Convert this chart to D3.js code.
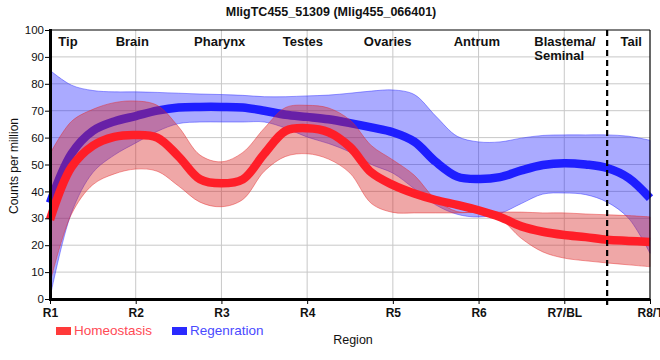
<!DOCTYPE html>
<html>
<head>
<meta charset="utf-8">
<script src="https://cdn.jsdelivr.net/npm/d3@7"></script>
<style>
  html, body { margin: 0; padding: 0; background: #fff; }
  svg { display: block; font-family: "Liberation Sans", Arial, sans-serif; }
</style>
</head>
<body>
<svg id="chart" width="660" height="360"></svg>
<script>
// ---- data ----
const regions = ["R1", "R2", "R3", "R4", "R5", "R6", "R7/BL", "R8/T"];
const tissues = ["Tip", "Brain", "Pharynx", "Testes", "Ovaries", "Antrum", "Blastema/|Seminal", "Tail"];
const tissueAt = [1.21, 1.96, 2.98, 3.95, 4.94, 5.98, 6.65, 7.78];
const yTicks = [0, 10, 20, 30, 40, 50, 60, 70, 80, 90, 100];
const divider = 7.5;

// sample positions along the region axis (region index)
const samplePos = [1, 1.25, 1.5, 1.75, 2, 2.25, 2.5, 2.75, 3, 3.25, 3.5, 3.75, 4, 4.25, 4.5,
                   4.75, 5, 5.25, 5.5, 5.75, 6, 6.25, 6.5, 6.75, 7, 7.25, 7.5, 7.75, 8];

const homeoMean = [29.5, 49, 57, 60.3, 61, 60, 53, 44.5, 43, 44.5, 54, 62.5, 63.5, 62, 56.5,
                   47, 42.4, 39.2, 36.8, 35, 33, 30.5, 27, 25, 23.8, 23, 22, 21.6, 21.2];
const homeoUpper = [54, 66, 70.5, 73, 73.6, 72, 64, 53.5, 51, 54.5, 63.5, 71.2, 72, 71, 66.5,
                    57, 51.7, 46, 37, 32.5, 32.3, 32.3, 32.3, 32, 32, 31.6, 31.3, 31, 30.5];
const homeoLower = [6, 31.5, 42.5, 46.5, 48.3, 47.5, 42, 36, 34.3, 37, 47.5, 53, 54, 52, 46.8,
                    35.5, 32.2, 32, 32, 32, 32, 29.8, 22.5, 17.5, 15.2, 14.2, 13.4, 12.7, 12];

const regenMean = [35.7, 54, 62.5, 66, 68, 70, 71.2, 71.4, 71.4, 71.2, 70, 68.5, 67.7, 66.8, 65.4,
                   63.8, 62, 58.5, 51, 45.5, 44.6, 45.3, 47.8, 49.8, 50.5, 50, 48.7, 45, 37.5];
const regenUpper = [85, 79.5, 77.5, 77, 77, 76.8, 76.5, 76.2, 76, 75.7, 75.2, 75.2, 75.5, 75.8, 76.5,
                    77.3, 77.7, 76, 68, 60.5, 58.4, 58.4, 59.8, 60.8, 61, 61, 61, 60.5, 59];
const regenLower = [0.5, 32, 47, 53.5, 58, 62.3, 65.2, 65.8, 65.8, 65.8, 65.8, 63.5, 60.2, 57.8, 54.6,
                    50, 46.8, 41, 35, 31.5, 30.5, 31.8, 35.5, 39, 39.4, 38.8, 36, 30, 17];

const seriesNames = ["Homeostasis", "Regenration"];

// ---- layout ----
const svg = d3.select("#chart");
const pLeft = 50, pRight = 650, pTop = 30, pBottom = 299;

const x = d3.scaleLinear().domain([1, 8]).range([pLeft, pRight]);
const y = d3.scaleLinear().domain([0, 100]).range([pBottom, pTop]);

// grid
const grid = svg.append("g");
grid.selectAll("line.h").data(yTicks.filter(d => d > 0 && d < 100)).enter().append("line")
  .attr("x1", pLeft).attr("x2", pRight)
  .attr("y1", d => y(d)).attr("y2", d => y(d))
  .attr("stroke", "#c8c8c8").attr("stroke-width", 1);
grid.selectAll("line.v").data(regions.slice(1, -1)).enter().append("line")
  .attr("x1", (d, i) => x(i + 2)).attr("x2", (d, i) => x(i + 2))
  .attr("y1", pTop).attr("y2", pBottom)
  .attr("stroke", "#c8c8c8").attr("stroke-width", 1);

const curve = d3.curveCatmullRom.alpha(0.5);
function bandData(lo, hi) { return samplePos.map((p, i) => ({ p, lo: lo[i], hi: hi[i] })); }
function lineData(m) { return samplePos.map((p, i) => ({ p, v: m[i] })); }

const area = d3.area().curve(curve)
  .x(d => x(d.p)).y0(d => y(d.lo)).y1(d => y(d.hi));
const line = d3.line().curve(curve)
  .x(d => x(d.p)).y(d => y(d.v));

// blue band + line
svg.append("path").datum(bandData(regenLower, regenUpper))
  .attr("d", area)
  .attr("fill", "rgba(20,20,255,0.36)")
  .attr("stroke", "rgba(40,40,255,0.45)").attr("stroke-width", 1);
svg.append("path").datum(lineData(regenMean))
  .attr("d", line)
  .attr("fill", "none").attr("stroke", "#1e1eff").attr("stroke-width", 8.5);

// red band + line
svg.append("path").datum(bandData(homeoLower, homeoUpper))
  .attr("d", area)
  .attr("fill", "rgba(215,35,35,0.4)")
  .attr("stroke", "rgba(230,40,40,0.45)").attr("stroke-width", 1);
svg.append("path").datum(lineData(homeoMean))
  .attr("d", line)
  .attr("fill", "none").attr("stroke", "#ff1e28").attr("stroke-width", 8.5);

// frame
svg.append("line").attr("x1", pLeft).attr("x2", pRight).attr("y1", pTop).attr("y2", pTop)
  .attr("stroke", "#000").attr("stroke-width", 1.2);
svg.append("line").attr("x1", pRight).attr("x2", pRight).attr("y1", pTop).attr("y2", pBottom)
  .attr("stroke", "#000").attr("stroke-width", 1.2);

// divider
svg.append("line").attr("x1", x(divider)).attr("x2", x(divider)).attr("y1", pTop).attr("y2", pBottom + 6)
  .attr("stroke", "#000").attr("stroke-width", 2.2).attr("stroke-dasharray", "6,4");

// y axis
const yAxis = svg.append("g").attr("transform", `translate(${pLeft},0)`)
  .call(d3.axisLeft(y).tickValues(yTicks).tickSize(5).tickFormat(d3.format("d")));
yAxis.select(".domain").attr("stroke-width", 3).attr("d", `M0.5,${pTop - 1}V${pBottom + 1}`);
yAxis.selectAll(".tick text").attr("font-size", 11.5).attr("x", -6).attr("fill", "#111")
  .attr("font-family", "Liberation Sans, Arial, sans-serif");

// x axis
const xAxis = svg.append("g").attr("transform", `translate(0,${pBottom})`)
  .call(d3.axisBottom(x).tickValues(d3.range(1, 9)).tickSize(5).tickFormat((d) => regions[d - 1]));
xAxis.select(".domain").attr("stroke-width", 3).attr("d", `M${pLeft - 1},0.5H${pRight}`);
xAxis.selectAll(".tick text").attr("font-size", 12).attr("font-weight", "bold").attr("y", 9)
  .attr("fill", "#111").attr("font-family", "Liberation Sans, Arial, sans-serif");
// tick at divider
svg.append("line").attr("x1", x(divider)).attr("x2", x(divider)).attr("y1", pBottom).attr("y2", pBottom + 5)
  .attr("stroke", "#000");

// tissue labels
const tl = svg.append("g").attr("font-size", 13).attr("font-weight", "bold").attr("fill", "#111");
tissues.forEach((t, i) => {
  const parts = t.split("|");
  const txt = tl.append("text")
    .attr("x", x(tissueAt[i]))
    .attr("y", 46)
    .attr("text-anchor", parts.length > 1 ? "start" : "middle");
  parts.forEach((p, j) => {
    txt.append("tspan").attr("x", x(tissueAt[i])).attr("dy", j === 0 ? 0 : 14).text(p);
  });
});

// title
svg.append("text").attr("x", 331).attr("y", 16).attr("text-anchor", "middle")
  .attr("font-size", 12.5).attr("font-weight", "bold").attr("fill", "#111")
  .text("MligTC455_51309 (Mlig455_066401)");

// y title
svg.append("text").attr("transform", "translate(18,166) rotate(-90)")
  .attr("text-anchor", "middle").attr("font-size", 12).attr("fill", "#111")
  .text("Counts per million");

// x title
svg.append("text").attr("x", 353).attr("y", 344).attr("text-anchor", "middle")
  .attr("font-size", 12.5).attr("fill", "#111").text("Region");

// legend
const legColors = ["#ff3a3a", "#2a2aff"];
const legText = ["#ff4a55", "#4a4aff"];
const legX = [56, 172];
seriesNames.forEach((n, i) => {
  svg.append("rect").attr("x", legX[i]).attr("y", 327).attr("width", 15).attr("height", 8)
    .attr("fill", legColors[i]);
  svg.append("text").attr("x", legX[i] + 18).attr("y", 335).attr("font-size", 13.5)
    .attr("fill", legText[i]).text(n);
});
</script>
</body>
</html>
